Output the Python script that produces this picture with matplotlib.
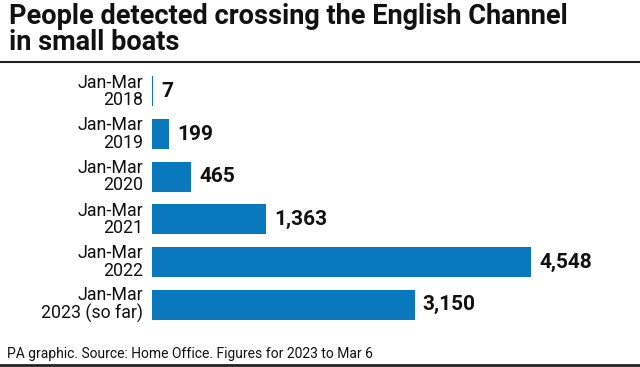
import matplotlib.pyplot as plt
from matplotlib.lines import Line2D

categories = ["Jan-Mar\n2018", "Jan-Mar\n2019", "Jan-Mar\n2020",
              "Jan-Mar\n2021", "Jan-Mar\n2022", "Jan-Mar\n2023 (so far)"]
values = [7, 199, 465, 1363, 4548, 3150]

TITLE = "People detected crossing the English Channel\nin small boats"
FOOTER = "PA graphic. Source: Home Office. Figures for 2023 to Mar 6"
BAR_COLOR = "#0a78bd"
FONT = ["Roboto", "DejaVu Sans"]

W, H = 640, 367
fig = plt.figure(figsize=(W / 100, H / 100), dpi=100)

# axes placed in pixel terms: bars start at x=152, longest ends at x=531
left, right = 152, 531
top, bottom = 70, 326
ax = fig.add_axes([left / W, 1 - bottom / H, (right - left) / W, (bottom - top) / H])

y = list(range(len(values)))
ax.barh(y, values, height=0.7, color=BAR_COLOR)
ax.set_xlim(0, max(values))
ax.set_ylim(len(values) - 0.5, -0.5)
ax.axis("off")

for yi, v, c in zip(y, values, categories):
    ax.text(-9 * max(values) / (right - left), yi, c, ha="right", va="center",
            fontsize=12.8, family=FONT, linespacing=0.95, color="#111111")
    ax.annotate(f"{v:,}", (v, yi), xytext=(6, 0), textcoords="offset points",
                ha="left", va="center", fontsize=15, fontweight="bold",
                family=FONT, color="#111111")

fig.text(9 / W, 1 - 3 / H, TITLE, ha="left", va="top", fontsize=19.5,
         fontweight="bold", family=FONT, linespacing=0.95, color="#111111")
fig.text(7 / W, 1 - 354 / H, FOOTER, ha="left", va="center", fontsize=10,
         family=FONT, color="#111111")

fig.add_artist(Line2D([0, 1], [1 - 62 / H, 1 - 62 / H], color="#222222", lw=1.5,
                      transform=fig.transFigure))
fig.add_artist(Line2D([0, 1], [1 - 365 / H, 1 - 365 / H], color="#222222", lw=2,
                      transform=fig.transFigure))

fig.savefig("out.png", dpi=100)
